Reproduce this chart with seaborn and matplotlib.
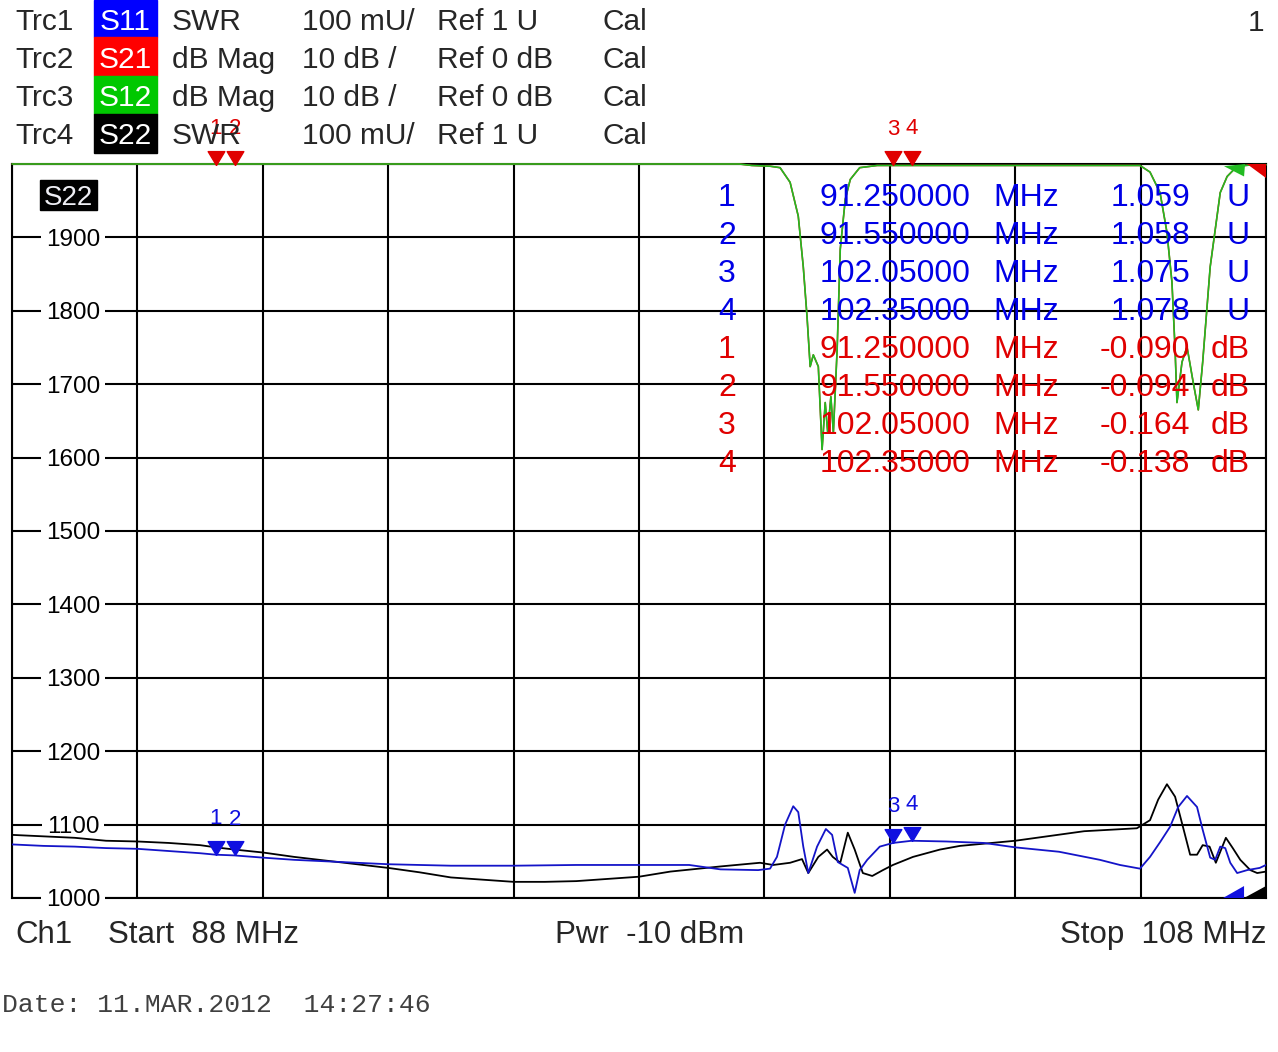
import numpy as np
import matplotlib
matplotlib.use("Agg")
import matplotlib.pyplot as plt
import seaborn as sns

# --- trace data ----------------------------------------------------------
# S11 (SWR, shown in mU on the S22 scale)
s11_freq = [88.0, 88.5, 89.0, 89.5, 90.0, 90.5, 91.0, 91.25, 91.55, 92.0, 92.5,
            93.0, 93.5, 94.0, 94.5, 95.0, 96.0, 97.0, 98.0, 98.8, 99.3, 99.9,
            100.09, 100.2, 100.33, 100.46, 100.54, 100.62, 100.7, 100.84, 100.98,
            101.08, 101.17, 101.33, 101.44, 101.52, 101.64, 101.84, 102.05, 102.35,
            102.9, 103.5, 104.0, 104.7, 105.35, 105.67, 105.99, 106.15, 106.31,
            106.47, 106.6, 106.74, 106.9, 106.99, 107.11, 107.19, 107.27, 107.35,
            107.43, 107.54, 107.7, 107.9, 108.0]
s11_mu = [1073, 1071, 1070, 1068, 1067, 1064, 1061, 1059, 1058, 1055, 1052,
          1050, 1048, 1046, 1045, 1044, 1044, 1045, 1045, 1045, 1039, 1038,
          1040, 1056, 1100, 1125, 1117, 1070, 1034, 1070, 1094,
          1086, 1049, 1041, 1007, 1038, 1052, 1070, 1075, 1078,
          1077, 1075, 1069, 1063, 1052, 1045, 1040, 1056, 1076,
          1097, 1124, 1139, 1124, 1093, 1055, 1052, 1070, 1068,
          1048, 1034, 1038, 1041, 1045]

# S22 (SWR in mU)
s22_freq = [88.0, 88.5, 89.0, 89.5, 90.0, 90.5, 91.0, 91.25, 91.55, 92.0, 92.5,
            93.0, 93.5, 94.0, 94.5, 95.0, 95.5, 96.0, 96.5, 97.0, 97.5, 98.0,
            98.5, 99.3, 99.93, 100.14, 100.41, 100.6, 100.7, 100.86, 101.0, 101.09,
            101.21, 101.33, 101.44, 101.57, 101.72, 101.89, 102.05, 102.37, 102.8,
            103.12, 103.5, 104.0, 105.1, 105.94, 106.15, 106.28, 106.42, 106.55,
            106.66, 106.79, 106.9, 106.99, 107.1, 107.2, 107.36, 107.47, 107.59,
            107.75, 107.86, 108.0]
s22_mu = [1086, 1084, 1082, 1078, 1077, 1075, 1072, 1069, 1066, 1062, 1056,
          1051, 1046, 1041, 1035, 1028, 1025, 1022, 1022, 1023, 1026, 1029,
          1036, 1043, 1048, 1045, 1048, 1053, 1034, 1056, 1066, 1056,
          1048, 1089, 1066, 1034, 1030, 1038, 1045, 1056, 1066,
          1071, 1074, 1078, 1091, 1095, 1106, 1134, 1155, 1138,
          1102, 1059, 1059, 1072, 1070, 1048, 1082, 1068, 1052,
          1038, 1034, 1036]

# S12 (dB mag, 10 dB/div, ref 0 dB at top)
s12_freq = [88.0, 99.6, 99.8, 100.09, 100.25, 100.41, 100.54, 100.62, 100.68,
            100.73, 100.78, 100.86, 100.92, 100.97, 101.01, 101.06, 101.1, 101.16,
            101.21, 101.29, 101.37, 101.52, 101.8, 105.99, 106.15, 106.31, 106.42,
            106.5, 106.55, 106.58, 106.66, 106.74, 106.84, 106.92, 106.99, 107.11,
            107.27, 107.38, 107.54, 107.8, 108.0]
s12_db = [0.0, 0.0, -0.2, -0.3, -0.5, -2.5, -7.1, -14.0, -20.8,
          -27.6, -26.0, -27.6, -38.9, -32.5, -36.6, -31.7, -36.6, -25.3,
          -11.6, -4.8, -2.1, -0.5, -0.2, -0.2, -1.1, -3.9, -9.3,
          -16.1, -25.3, -32.5, -27.0, -24.9, -29.8, -33.5, -27.0, -14.0,
          -3.9, -1.7, -0.3, -0.1, -0.1]
# S21 lies exactly under S12 (reciprocal filter)
s21_freq = list(s12_freq)
s21_db = list(s12_db)

# marker readout
marker_ids = ["1", "2", "3", "4"]
marker_freq = [91.25, 91.55, 102.05, 102.35]
marker_s11 = [1.059, 1.058, 1.075, 1.078]
marker_s21 = [-0.090, -0.094, -0.164, -0.138]

y_ticks = [1000, 1100, 1200, 1300, 1400, 1500, 1600, 1700, 1800, 1900]
x_grid = [88, 90, 92, 94, 96, 98, 100, 102, 104, 106, 108]

header_rows = [
    ("Trc1", "S11", "SWR", "100 mU/", "Ref 1 U", "Cal"),
    ("Trc2", "S21", "dB Mag", "10 dB /", "Ref 0 dB", "Cal"),
    ("Trc3", "S12", "dB Mag", "10 dB /", "Ref 0 dB", "Cal"),
    ("Trc4", "S22", "SWR", "100 mU/", "Ref 1 U", "Cal"),
]
box_colors = ["#0000FF", "#FF0000", "#00C800", "#000000"]

BLUE = "#1414C8"
BLUE_TXT = "#0000E6"
RED = "#E00000"
GREEN = "#22BB22"

W, H = 1278, 1052

sns.set_style("white")
plt.rcParams["font.family"] = ["Liberation Sans", "DejaVu Sans"]

fig = plt.figure(figsize=(W / 100, H / 100), dpi=100)
ax = fig.add_axes([12 / W, 1 - 898 / H, 1254 / W, 734 / H])


def ftext(px, py, s, **kw):
    return fig.text(px / W, 1 - py / H, s, **kw)


# grid and frame
ax.set_xlim(88, 108)
ax.set_ylim(1000, 2000)
ax.set_xticks(x_grid)
ax.set_yticks(y_ticks + [2000])
ax.grid(True, color="black", lw=1.5)
ax.tick_params(length=0, labelleft=False, labelbottom=False)
for sp in ax.spines.values():
    sp.set_color("black")
    sp.set_linewidth(1.5)

# traces
sns.lineplot(x=s21_freq, y=2000 + 10 * np.array(s21_db), color=RED, lw=1.1,
             ax=ax, zorder=2.8, clip_on=False)
sns.lineplot(x=s12_freq, y=2000 + 10 * np.array(s12_db), color=GREEN, lw=1.2,
             ax=ax, zorder=3, clip_on=False)
sns.lineplot(x=s22_freq, y=s22_mu, color="black", lw=1.3, ax=ax, zorder=3.1)
sns.lineplot(x=s11_freq, y=s11_mu, color=BLUE, lw=1.3, ax=ax, zorder=3.2)

# y labels with white background (under the traces, over the grid)
ytr = ax.get_yaxis_transform()
for v in y_ticks:
    ax.text(61 / 1254, v - 11.5, str(v), transform=ytr, ha="center", va="baseline",
            fontsize=17.5, color="black", zorder=2.7,
            bbox=dict(boxstyle="square,pad=0.2", fc="white", ec="none"))

# marker triangles (tip at trace value)
tri = [(0, 0), (-0.6, 1), (0.6, 1), (0, 0)]
s21_axis = [2000 + 10 * d for d in marker_s21]
s11_axis = [1000 + (s - 1) * 1000 for s in marker_s11]
ax.plot(marker_freq, s21_axis, ls="none", marker=tri, ms=20, color=RED,
        clip_on=False, zorder=7)
ax.plot(marker_freq, s11_axis, ls="none", marker=tri, ms=20, color="#1010E0",
        clip_on=False, zorder=7)
for mid, f, yr, yb in zip(marker_ids, marker_freq, s21_axis, s11_axis):
    ax.annotate(mid, (f, yr), xytext=(0, 22), textcoords="offset points",
                ha="center", va="baseline", fontsize=16, color=RED,
                annotation_clip=False, zorder=8)
    ax.annotate(mid, (f, yb), xytext=(0, 22), textcoords="offset points",
                ha="center", va="baseline", fontsize=16, color="#1010E0",
                annotation_clip=False, zorder=8)

# corner limit indicators
ax.fill([0.9657, 0.9825, 0.9825], [0, 0.0163, 0], color="#1010E0",
        transform=ax.transAxes, clip_on=False, zorder=8, lw=0)
ax.fill([0.9825, 1.0, 1.0], [0, 0.0163, 0], color="black",
        transform=ax.transAxes, clip_on=False, zorder=8, lw=0)
ax.fill([0.9665, 0.9833, 0.9825], [0.997, 1.0, 0.983], color=GREEN,
        transform=ax.transAxes, clip_on=False, zorder=8, lw=0)
ax.fill([0.9849, 1.0, 1.0], [1.0, 1.0, 0.981], color=RED,
        transform=ax.transAxes, clip_on=False, zorder=8, lw=0)

# S22 label inside the diagram
fig.add_artist(plt.Rectangle((40 / W, 1 - 210 / H), 57 / W, 30 / H,
                             transform=fig.transFigure, color="black", zorder=9))
ftext(68.5, 205, "S22", ha="center", va="baseline", fontsize=20,
      color="#EEEEF4", zorder=10)

# marker readout table
TFS = 23
for i, (mid, f, v) in enumerate(zip(marker_ids, marker_freq, marker_s11)):
    base = 206 + 38 * i
    fs = f"{f:.{8 - len(str(int(f)))}f}"
    ftext(727, base, mid, ha="center", va="baseline", fontsize=TFS, color=BLUE_TXT)
    ftext(970, base, fs, ha="right", va="baseline", fontsize=TFS, color=BLUE_TXT)
    ftext(993, base, "MHz", ha="left", va="baseline", fontsize=TFS, color=BLUE_TXT)
    ftext(1190, base, f"{v:.3f}", ha="right", va="baseline", fontsize=TFS, color=BLUE_TXT)
    ftext(1250, base, "U", ha="right", va="baseline", fontsize=TFS, color=BLUE_TXT)
for i, (mid, f, v) in enumerate(zip(marker_ids, marker_freq, marker_s21)):
    base = 206 + 38 * (i + 4)
    fs = f"{f:.{8 - len(str(int(f)))}f}"
    ftext(727, base, mid, ha="center", va="baseline", fontsize=TFS, color=RED)
    ftext(970, base, fs, ha="right", va="baseline", fontsize=TFS, color=RED)
    ftext(993, base, "MHz", ha="left", va="baseline", fontsize=TFS, color=RED)
    ftext(1190, base, f"{v:.3f}", ha="right", va="baseline", fontsize=TFS, color=RED)
    ftext(1250, base, "dB", ha="right", va="baseline", fontsize=TFS, color=RED)

# header
HFS = 21.5
box_edges = [0, 37, 76, 114, 153]
for i, (row, bc) in enumerate(zip(header_rows, box_colors)):
    top, bot = box_edges[i], box_edges[i + 1]
    base = (top + bot) / 2 + 11
    fig.add_artist(plt.Rectangle((94 / W, 1 - bot / H), 63 / W, (bot - top) / H,
                                 transform=fig.transFigure, color=bc, zorder=1))
    trc, sp, meas, scale, ref, cal = row
    ftext(15, base, trc, va="baseline", fontsize=HFS)
    ftext(125.5, base, sp, ha="center", va="baseline", fontsize=HFS, color="white",
          zorder=2)
    ftext(172, base, meas, va="baseline", fontsize=HFS)
    ftext(302, base, scale, va="baseline", fontsize=HFS)
    ftext(437, base, ref, va="baseline", fontsize=HFS)
    ftext(602, base, cal, va="baseline", fontsize=HFS)
ftext(1264, 31, "1", ha="right", va="baseline", fontsize=HFS)

# footer
FFS = 22.5
ftext(15, 943, "Ch1", va="baseline", fontsize=FFS)
ftext(108, 943, "Start  88 MHz", va="baseline", fontsize=FFS)
ftext(650, 943, "Pwr  -10 dBm", ha="center", va="baseline", fontsize=FFS)
ftext(1266, 943, "Stop  108 MHz", ha="right", va="baseline", fontsize=FFS)
ftext(2, 1012, "Date: 11.MAR.2012  14:27:46", va="baseline", fontsize=19,
      color="#404040", family=["Liberation Mono", "DejaVu Sans Mono"])

fig.savefig("out.png", dpi=100, facecolor="white")
